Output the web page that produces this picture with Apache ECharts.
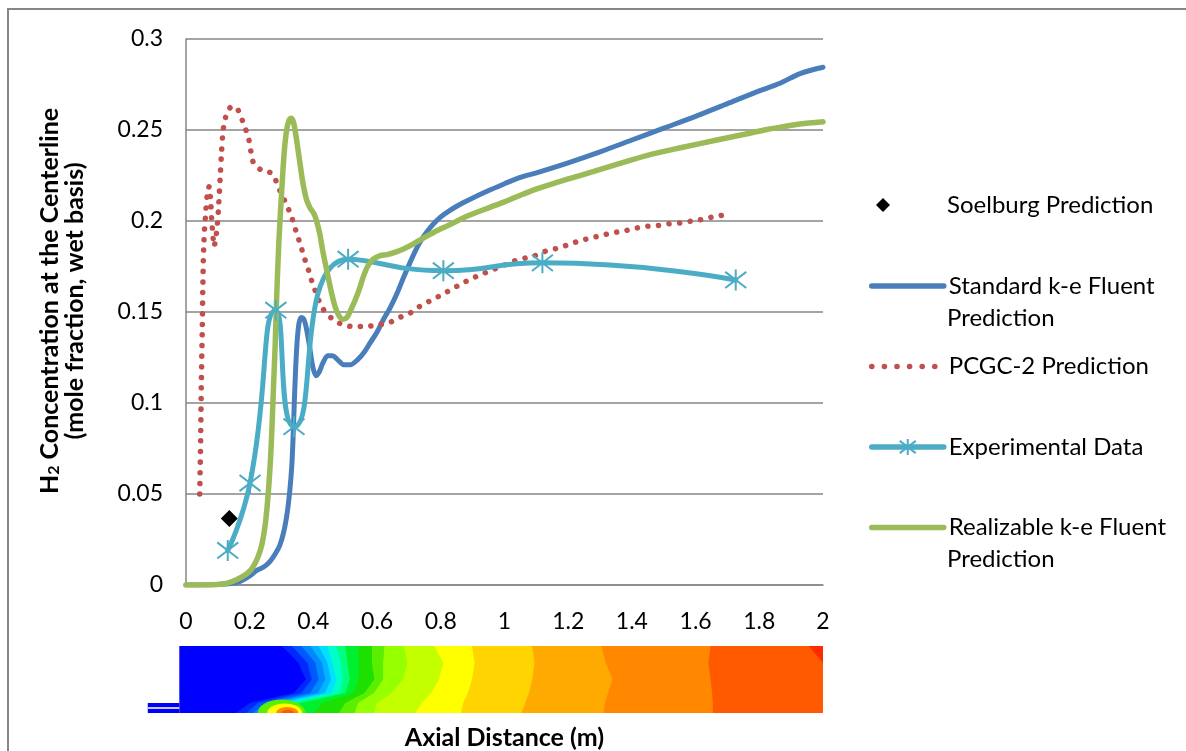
<!DOCTYPE html>
<html>
<head>
<meta charset="utf-8">
<script src="https://cdn.jsdelivr.net/npm/echarts@6/dist/echarts.min.js"></script>
<style>
  html, body { margin: 0; padding: 0; background: #fff; }
  #main { width: 1186px; height: 751px; }
</style>
</head>
<body>
<div id="main"></div>
<script>
// --- data ---
const soelburg = [[0.136, 0.0365]];

const standardKe = [
  [0, 0], [0.05, 0], [0.1, 0.0003], [0.14, 0.0008], [0.17, 0.002], [0.2, 0.005],
  [0.222, 0.008], [0.245, 0.01], [0.264, 0.013], [0.28, 0.017], [0.295, 0.022],
  [0.308, 0.03], [0.318, 0.04], [0.326, 0.052], [0.332, 0.065], [0.336, 0.08],
  [0.34, 0.1], [0.344, 0.118], [0.349, 0.134], [0.355, 0.144], [0.362, 0.147],
  [0.37, 0.146], [0.378, 0.141], [0.388, 0.131], [0.398, 0.12], [0.408, 0.115],
  [0.418, 0.117], [0.43, 0.122], [0.445, 0.126], [0.46, 0.126], [0.475, 0.124],
  [0.495, 0.121], [0.515, 0.121], [0.54, 0.124], [0.56, 0.128], [0.578, 0.133],
  [0.6, 0.139], [0.619, 0.1456], [0.64, 0.152], [0.662, 0.16], [0.683, 0.169],
  [0.703, 0.177], [0.724, 0.185], [0.744, 0.191], [0.77, 0.197], [0.798, 0.202],
  [0.83, 0.206], [0.87, 0.21], [0.91, 0.2135], [0.954, 0.217], [1.0, 0.2205],
  [1.05, 0.224], [1.1, 0.2265], [1.2, 0.232], [1.3, 0.238], [1.4, 0.2445],
  [1.5, 0.251], [1.6, 0.2575], [1.7, 0.2645], [1.8, 0.2715], [1.865, 0.2757],
  [1.928, 0.281], [2.0, 0.2845]
];

const pcgc2 = [
  [0.043, 0.05], [0.046, 0.08], [0.048, 0.11], [0.051, 0.14], [0.053, 0.165],
  [0.056, 0.188], [0.062, 0.205], [0.068, 0.216], [0.073, 0.219], [0.077, 0.212],
  [0.081, 0.2], [0.085, 0.191], [0.088, 0.186], [0.093, 0.19], [0.098, 0.197],
  [0.103, 0.21], [0.107, 0.223], [0.111, 0.236], [0.116, 0.249], [0.123, 0.256],
  [0.132, 0.261], [0.147, 0.263], [0.16, 0.262], [0.173, 0.257], [0.186, 0.251],
  [0.197, 0.245], [0.204, 0.238], [0.212, 0.232], [0.236, 0.228], [0.26, 0.227],
  [0.275, 0.225], [0.289, 0.219], [0.305, 0.213], [0.318, 0.208], [0.33, 0.203],
  [0.339, 0.198], [0.35, 0.192], [0.361, 0.186], [0.371, 0.18], [0.383, 0.174],
  [0.393, 0.168], [0.405, 0.162], [0.418, 0.156], [0.433, 0.151], [0.461, 0.146],
  [0.493, 0.143], [0.527, 0.142], [0.565, 0.142], [0.603, 0.143], [0.636, 0.144],
  [0.67, 0.147], [0.7, 0.149], [0.733, 0.153], [0.765, 0.156], [0.798, 0.159],
  [0.829, 0.162], [0.86, 0.165], [0.892, 0.168], [0.925, 0.1705], [0.96, 0.173],
  [0.995, 0.1755], [1.03, 0.178], [1.062, 0.1795], [1.096, 0.181], [1.13, 0.1835],
  [1.165, 0.185], [1.2, 0.187], [1.234, 0.189], [1.268, 0.1905], [1.303, 0.192],
  [1.339, 0.1935], [1.375, 0.1945], [1.41, 0.196], [1.447, 0.197], [1.482, 0.1975],
  [1.517, 0.1985], [1.554, 0.199], [1.589, 0.2], [1.624, 0.201], [1.661, 0.2025],
  [1.698, 0.2035]
];

const experimental = [
  [0.131, 0.019], [0.201, 0.056], [0.282, 0.151], [0.339, 0.087],
  [0.509, 0.179], [0.808, 0.1727], [1.119, 0.177], [1.726, 0.1676]
];

const realizableKe = [
  [0, 0], [0.1, 0.0003], [0.13, 0.001], [0.16, 0.003], [0.19, 0.006], [0.207, 0.009],
  [0.225, 0.015], [0.238, 0.022], [0.25, 0.035], [0.258, 0.05], [0.265, 0.068],
  [0.27, 0.087], [0.275, 0.11], [0.28, 0.132], [0.285, 0.16], [0.292, 0.19],
  [0.3, 0.215], [0.308, 0.237], [0.316, 0.25], [0.324, 0.2555], [0.331, 0.2565],
  [0.338, 0.254], [0.346, 0.246], [0.356, 0.234], [0.366, 0.222], [0.378, 0.212],
  [0.39, 0.207], [0.402, 0.204], [0.41, 0.2], [0.42, 0.193], [0.43, 0.183],
  [0.443, 0.172], [0.455, 0.162], [0.468, 0.153], [0.48, 0.148], [0.493, 0.146],
  [0.505, 0.147], [0.517, 0.151], [0.53, 0.156], [0.545, 0.163], [0.556, 0.169],
  [0.57, 0.175], [0.587, 0.179], [0.61, 0.181], [0.631, 0.1815], [0.66, 0.183],
  [0.681, 0.1845], [0.71, 0.187], [0.744, 0.1905], [0.78, 0.194], [0.829, 0.198],
  [0.88, 0.2025], [0.954, 0.2075], [1.0, 0.2105], [1.09, 0.217], [1.17, 0.2215],
  [1.247, 0.2255], [1.35, 0.231], [1.457, 0.2365], [1.56, 0.2405], [1.667, 0.2445],
  [1.75, 0.2475], [1.824, 0.2503], [1.88, 0.252], [1.928, 0.2533], [2.0, 0.2545]
];

// contour strip under the chart: band edges (axial distance) at radial rows, wall (0) -> centreline (1)
const stripRows = [0, 0.25, 0.5, 0.7, 0.85, 1];
const stripStart = -0.021;
const bandEdges = [
  [0.301, 0.353, 0.376, 0.338, 0.200, 0.157],
  [0.332, 0.381, 0.395, 0.362, 0.225, 0.190],
  [0.362, 0.406, 0.416, 0.390, 0.250, 0.210],
  [0.390, 0.427, 0.437, 0.414, 0.270, 0.225],
  [0.416, 0.444, 0.455, 0.436, 0.290, 0.238],
  [0.444, 0.460, 0.472, 0.458, 0.310, 0.250],
  [0.472, 0.486, 0.493, 0.480, 0.330, 0.260],
  [0.500, 0.507, 0.514, 0.500, 0.360, 0.270],
  [0.542, 0.542, 0.542, 0.525, 0.430, 0.400],
  [0.584, 0.584, 0.591, 0.560, 0.500, 0.480],
  [0.623, 0.619, 0.619, 0.590, 0.540, 0.530],
  [0.684, 0.695, 0.681, 0.645, 0.600, 0.590],
  [0.780, 0.808, 0.794, 0.770, 0.740, 0.720],
  [0.898, 0.906, 0.898, 0.885, 0.870, 0.864],
  [1.087, 1.094, 1.087, 1.077, 1.065, 1.053],
  [1.304, 1.318, 1.339, 1.325, 1.315, 1.311],
  [1.647, 1.640, 1.647, 1.652, 1.654, 1.654],
  [1.955, 2.0, 2.0, 2.0, 2.0, 2.0]
];
const bandColors = [
  '#0000ff', '#0028ff', '#0058ff', '#0088ff', '#00b4ff', '#00e0ff', '#00ffc8',
  '#00ff80', '#00f030', '#1ee000', '#5aee00', '#96ff00', '#c4ff00', '#ffff00',
  '#ffd400', '#ffaa00', '#ff8800', '#ff5a00', '#ff2a00'
];
// hot spot on the centreline: [centre, half width, height in rows, colour band]
const hotSpot = [
  [0.300, 0.075, 0.20, 10],
  [0.310, 0.055, 0.14, 13],
  [0.318, 0.035, 0.09, 16],
  [0.320, 0.020, 0.05, 17]
];
const inletX = [-0.12, stripStart];
const inletRows = [0.85, 1];

const chart = echarts.init(document.getElementById('main'));

const font = 'Lato, "Open Sans", sans-serif';
const gray = '#868686';

function lineIcon(color, width, type) {
  return { itemStyle: { opacity: 0 }, lineStyle: { color: color, width: width, type: type || 'solid', cap: 'round' } };
}

chart.setOption({
  animation: false,
  backgroundColor: '#fff',
  textStyle: { fontFamily: font },
  grid: [
    { left: 186, top: 39, width: 637, height: 546, outerBoundsMode: 'none', containLabel: false },
    { left: 147.78, top: 646, width: 675.22, height: 67, outerBoundsMode: 'none', containLabel: false }
  ],
  xAxis: [
    {
      type: 'value', min: 0, max: 2, interval: 0.2,
      axisLine: { lineStyle: { color: gray, width: 1.5 } },
      axisTick: { show: false },
      splitLine: { show: false },
      axisLabel: { color: '#000', fontSize: 23, margin: 25, fontFamily: font },
      name: 'Axial Distance (m)',
      nameLocation: 'middle',
      nameGap: 140,
      nameTextStyle: { color: '#000', fontSize: 25, fontWeight: 'bold', fontFamily: font }
    },
    { gridIndex: 1, type: 'value', min: -0.12, max: 2, show: false }
  ],
  yAxis: [
    {
      type: 'value', min: 0, max: 0.3, interval: 0.05,
      axisLine: { show: true, lineStyle: { color: gray, width: 1.5 } },
      axisTick: { show: false },
      splitLine: { lineStyle: { color: gray, width: 1.5 } },
      axisLabel: { color: '#000', fontSize: 23, margin: 23, fontFamily: font },
      name: '{b|H}{s|2}{b| Concentration at the Centerline}\n{b|(mole fraction, wet basis)}',
      nameLocation: 'middle',
      nameRotate: 90,
      nameGap: 99,
      nameTextStyle: {
        color: '#000', fontWeight: 'bold', fontFamily: font,
        padding: [0, 0, 0, 22],
        rich: {
          b: { fontSize: 25, fontWeight: 'bold', lineHeight: 25, fontFamily: font },
          s: { fontSize: 16, fontWeight: 'bold', verticalAlign: 'bottom', lineHeight: 18, fontFamily: font }
        }
      }
    },
    { gridIndex: 1, type: 'value', min: 0, max: 1, inverse: true, show: false }
  ],
  legend: [
    {
      data: ['Soelburg Prediction'],
      left: 871, top: 188,
      itemWidth: 14, itemHeight: 14,
      textStyle: { fontSize: 24, color: '#000', fontFamily: font, padding: [0, 0, 0, 52] }
    },
    {
      data: [
        Object.assign({ name: 'Standard k-e Fluent Prediction' }, lineIcon('#4A7EBB', 5.5)),
        Object.assign({ name: 'PCGC-2 Prediction' }, lineIcon('#C0504D', 5.5, [0.1, 12.5])),
        { name: 'Experimental Data', lineStyle: { color: '#4BACC6', width: 5.5, cap: 'round' } },
        Object.assign({ name: 'Realizable k-e Fluent Prediction' }, lineIcon('#9BBB59', 5.5))
      ],
      orient: 'vertical',
      left: 864, top: 269,
      itemWidth: 72, itemHeight: 20, itemGap: 56.5,
      textStyle: { fontSize: 24, color: '#000', fontFamily: font },
      formatter: function (name) {
        return name === 'PCGC-2 Prediction' ? name : name.replace(' Prediction', '');
      }
    }
  ],
  graphic: [
    { type: 'rect', shape: { x: 8, y: 9, width: 1300, height: 900 }, style: { fill: 'none', stroke: gray, lineWidth: 2 }, silent: true },
    { type: 'text', x: 947, y: 318, style: { text: 'Prediction', fontSize: 24, fontFamily: font, fill: '#000', verticalAlign: 'middle' } },
    { type: 'text', x: 947, y: 559, style: { text: 'Prediction', fontSize: 24, fontFamily: font, fill: '#000', verticalAlign: 'middle' } }
  ],
  series: [
    {
      type: 'custom', name: 'contour', xAxisIndex: 1, yAxisIndex: 1, silent: true,
      data: bandColors.map(function (c, i) { return [i]; }),
      renderItem: function (params, api) {
        const i = api.value(0);
        const left = i === 0 ? stripRows.map(function () { return stripStart; }) : bandEdges[i - 1];
        const pts = stripRows.map(function (r, k) { return api.coord([left[k], r]); });
        pts.push(api.coord([2, 1]), api.coord([2, 0]));
        return { type: 'polygon', shape: { points: pts, smooth: 0 }, style: { fill: bandColors[i] } };
      }
    },
    {
      type: 'custom', name: 'hotspot', xAxisIndex: 1, yAxisIndex: 1, silent: true, clip: true,
      data: hotSpot,
      renderItem: function (params, api) {
        const c = api.coord([api.value(0), 1]);
        const e = api.coord([api.value(0) + api.value(1), 1 - api.value(2)]);
        return {
          type: 'circle', x: c[0], y: c[1],
          scaleX: e[0] - c[0], scaleY: c[1] - e[1],
          shape: { cx: 0, cy: 0, r: 1 },
          style: { fill: bandColors[api.value(3)] }
        };
      }
    },
    {
      type: 'custom', name: 'inlet', xAxisIndex: 1, yAxisIndex: 1, silent: true,
      data: [[0]],
      renderItem: function (params, api) {
        const p0 = api.coord([inletX[0], inletRows[0]]);
        const p1 = api.coord([inletX[1], inletRows[1]]);
        const mid = (inletRows[0] + inletRows[1]) / 2;
        const pm = api.coord([inletX[0], mid]);
        const pm2 = api.coord([inletX[1], mid]);
        return {
          type: 'group',
          children: [
            { type: 'rect', shape: { x: p0[0], y: p0[1], width: p1[0] - p0[0], height: p1[1] - p0[1] }, style: { fill: '#0000ff' } },
            { type: 'line', shape: { x1: pm[0], y1: pm[1], x2: pm2[0], y2: pm2[1] }, style: { stroke: '#c8c8f0', lineWidth: 2 } }
          ]
        };
      }
    },
    {
      name: 'Soelburg Prediction', type: 'scatter', data: soelburg,
      symbol: 'diamond', symbolSize: 17,
      itemStyle: { color: '#000', opacity: 1 }
    },
    {
      name: 'Standard k-e Fluent Prediction', type: 'line', data: standardKe,
      showSymbol: false, symbol: 'none', smooth: 0.3,
      lineStyle: { color: '#4A7EBB', width: 5, cap: 'round' },
      itemStyle: { color: '#4A7EBB' }
    },
    {
      name: 'PCGC-2 Prediction', type: 'line', data: pcgc2,
      showSymbol: false, symbol: 'none', smooth: 0.3,
      lineStyle: { color: '#C0504D', width: 5.5, type: [0.1, 10.5], cap: 'round' },
      itemStyle: { color: '#C0504D' }
    },
    {
      name: 'Experimental Data', type: 'line', data: experimental,
      smooth: 0.55,
      symbol: 'path://M0,0L20,20M20,0L0,20M10,-3L10,23', symbolSize: 21,
      lineStyle: { color: '#4BACC6', width: 5, cap: 'round' },
      itemStyle: { color: 'none', borderColor: '#4BACC6', borderWidth: 2 }
    },
    {
      name: 'Realizable k-e Fluent Prediction', type: 'line', data: realizableKe,
      showSymbol: false, symbol: 'none', smooth: 0.3,
      lineStyle: { color: '#9BBB59', width: 5.5, cap: 'round' },
      itemStyle: { color: '#9BBB59' }
    }
  ]
});
</script>
</body>
</html>
